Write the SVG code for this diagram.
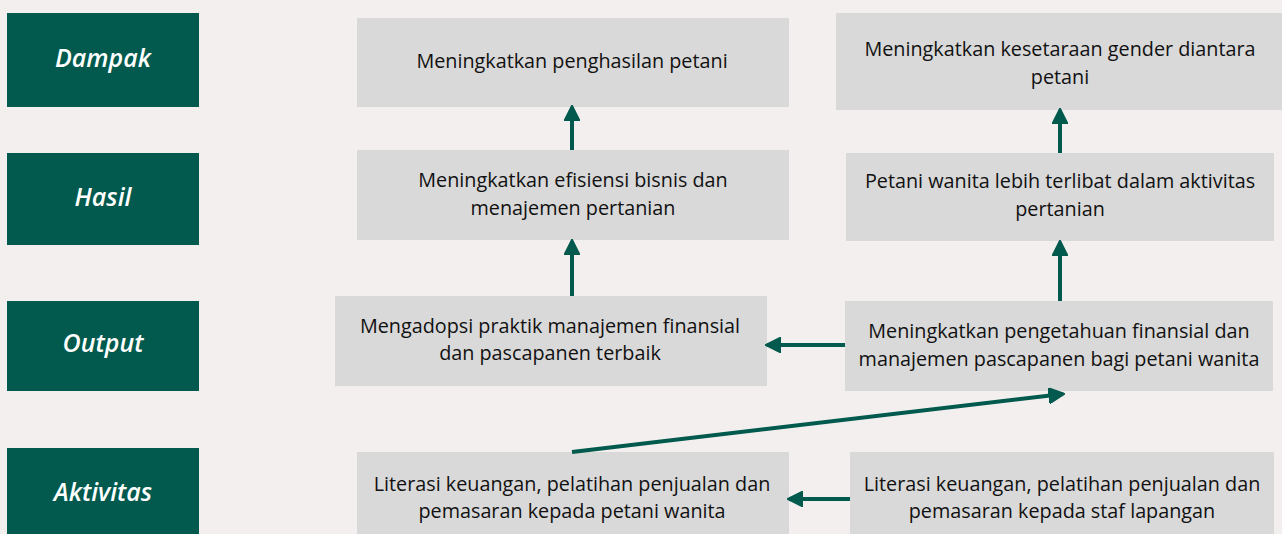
<svg xmlns="http://www.w3.org/2000/svg" width="1282" height="534" viewBox="0 0 1282 534">
<style>
.lbl rect{fill:#015a4d}
.lbl text{fill:#ffffff;font-family:"Open Sans",Lato,sans-serif;font-weight:600;font-style:italic;font-size:25px;text-anchor:middle}
.box rect{fill:#d9d9d9}
.box text{fill:#111111;font-family:"Open Sans",Lato,sans-serif;font-size:19.8px;text-anchor:middle}
.conn line{stroke:#015a4d;stroke-width:4;fill:none}
</style>
<defs>
<marker id="ah" viewBox="0 0 10 10" refX="9" refY="5" markerWidth="4" markerHeight="4" markerUnits="strokeWidth" orient="auto">
<path d="M0,0 L10,5 L0,10 Z" fill="#015a4d" stroke="#015a4d" stroke-linejoin="round" stroke-width="1"/>
</marker>
</defs>
<rect width="1282" height="534" fill="#f3efee"/>

<g id="lbl-dampak" class="lbl"><rect x="7" y="13" width="192" height="94"/><text x="103" y="67">Dampak</text></g>
<g id="lbl-hasil" class="lbl"><rect x="7" y="153" width="192" height="92"/><text x="103" y="206">Hasil</text></g>
<g id="lbl-output" class="lbl"><rect x="7" y="301" width="192" height="90"/><text x="103" y="352">Output</text></g>
<g id="lbl-aktivitas" class="lbl"><rect x="7" y="448" width="192" height="86"/><text x="103" y="501">Aktivitas</text></g>

<g id="n-penghasilan" class="box"><rect x="357" y="18" width="432" height="89"/><text x="572" y="68">Meningkatkan penghasilan petani</text></g>
<g id="n-kesetaraan" class="box"><rect x="836" y="13" width="446" height="97"/><text x="1060" y="56">Meningkatkan kesetaraan gender diantara</text><text x="1060" y="84">petani</text></g>
<g id="n-efisiensi" class="box"><rect x="357" y="150" width="432" height="90"/><text x="573" y="187">Meningkatkan efisiensi bisnis dan</text><text x="573" y="215">menajemen pertanian</text></g>
<g id="n-terlibat" class="box"><rect x="846" y="153" width="428" height="88"/><text x="1060" y="188">Petani wanita lebih terlibat dalam aktivitas</text><text x="1060" y="216">pertanian</text></g>
<g id="n-mengadopsi" class="box"><rect x="335" y="296" width="432" height="90"/><text x="550" y="333">Mengadopsi praktik manajemen finansial</text><text x="550" y="360">dan pascapanen terbaik</text></g>
<g id="n-pengetahuan" class="box"><rect x="845" y="301" width="428" height="90"/><text x="1059" y="338">Meningkatkan pengetahuan finansial dan</text><text x="1059" y="366">manajemen pascapanen bagi petani wanita</text></g>
<g id="n-literasi-petani" class="box"><rect x="357" y="452" width="432" height="82"/><text x="572" y="491">Literasi keuangan, pelatihan penjualan dan</text><text x="572" y="518">pemasaran kepada petani wanita</text></g>
<g id="n-literasi-staf" class="box"><rect x="850" y="452" width="424" height="82"/><text x="1062" y="491">Literasi keuangan, pelatihan penjualan dan</text><text x="1062" y="518">pemasaran kepada staf lapangan</text></g>

<g id="connectors" class="conn">
<line x1="572" y1="150" x2="572" y2="107" marker-end="url(#ah)"/>
<line x1="572" y1="296" x2="572" y2="241" marker-end="url(#ah)"/>
<line x1="1060" y1="153" x2="1060" y2="110" marker-end="url(#ah)"/>
<line x1="1060" y1="301" x2="1060" y2="242" marker-end="url(#ah)"/>
<line x1="845" y1="345" x2="767" y2="345" marker-end="url(#ah)"/>
<line x1="850" y1="499" x2="789" y2="499" marker-end="url(#ah)"/>
<line x1="572" y1="452" x2="1063" y2="394" marker-end="url(#ah)"/>
</g>
</svg>
